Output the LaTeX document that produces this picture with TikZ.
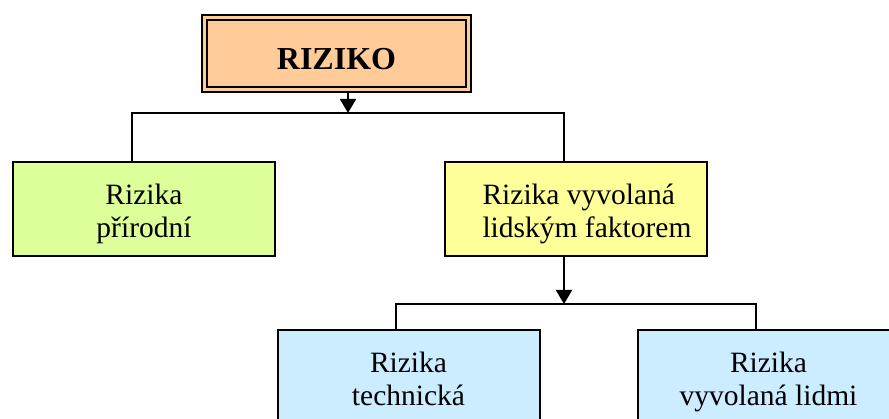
\documentclass[tikz,border=0pt]{standalone}
\usepackage{fontspec}
\setmainfont{Liberation Serif}
\usetikzlibrary{arrows.meta}
\definecolor{peach}{HTML}{FFCC99}
\definecolor{lime}{HTML}{DDFF99}
\definecolor{lemon}{HTML}{FFFF99}
\definecolor{sky}{HTML}{CCECFF}
% podpery radku
\newcommand{\hi}{\rule{0pt}{33pt}}
\newcommand{\lo}{\rule[-8pt]{0pt}{8pt}}
\newcommand{\ind}{\hspace*{22pt}}
\tikzset{
	box/.style={rectangle, draw, line width=2pt, minimum width=262pt, minimum height=94pt,
		inner sep=0pt, font=\fontsize{29.5}{33}\selectfont},
	link/.style={line width=2pt},
	tip/.style={line width=2pt, -{Triangle[width=16pt,length=14pt]}}
}
\begin{document}
\begin{tikzpicture}[x=1pt,y=-1pt]
	\useasboundingbox (0,0) rectangle (889,419);
	\node (riziko) at (336.5, 53.5)	[rectangle, draw, line width=2.5pt, double=peach, double distance=2.5pt,
		fill=peach, minimum width=264pt, minimum height=72pt, inner sep=0pt,
		font=\fontsize{32}{36}\selectfont\bfseries]	{\hi RIZIKO};
	\node (prir)   at (144, 209)	[box, fill=lime, align=center]	{\hi Rizika\\přírodní\lo};
	\node (lid)    at (576, 209)	[box, fill=lemon, align=left]	{\hi\ind Rizika vyvolaná\\\ind lidským faktorem\lo};
	\node (tech)   at (408.5, 377)	[box, fill=sky, align=center]	{\hi Rizika\\technická\lo};
	\node (lidmi)  at (768.5, 377)	[box, fill=sky, align=center]	{\hi Rizika\\vyvolaná lidmi\lo};
	% vetveni
	\coordinate (j1) at (348, 113);
	\coordinate (a1) at (132, 113);
	\coordinate (a2) at (564, 113);
	\coordinate (j2) at (564, 304);
	\coordinate (b1) at (396, 304);
	\coordinate (b2) at (756, 304);
	\draw[tip] (riziko.south -| j1) -- (j1);
	\draw[link] (prir.north -| a1) -- (a1) -- (a2) -- (lid.north -| a2);
	\draw[tip] (lid.south -| j2) -- (j2);
	\draw[link] (tech.north -| b1) -- (b1) -- (b2) -- (lidmi.north -| b2);
\end{tikzpicture}
\end{document}
